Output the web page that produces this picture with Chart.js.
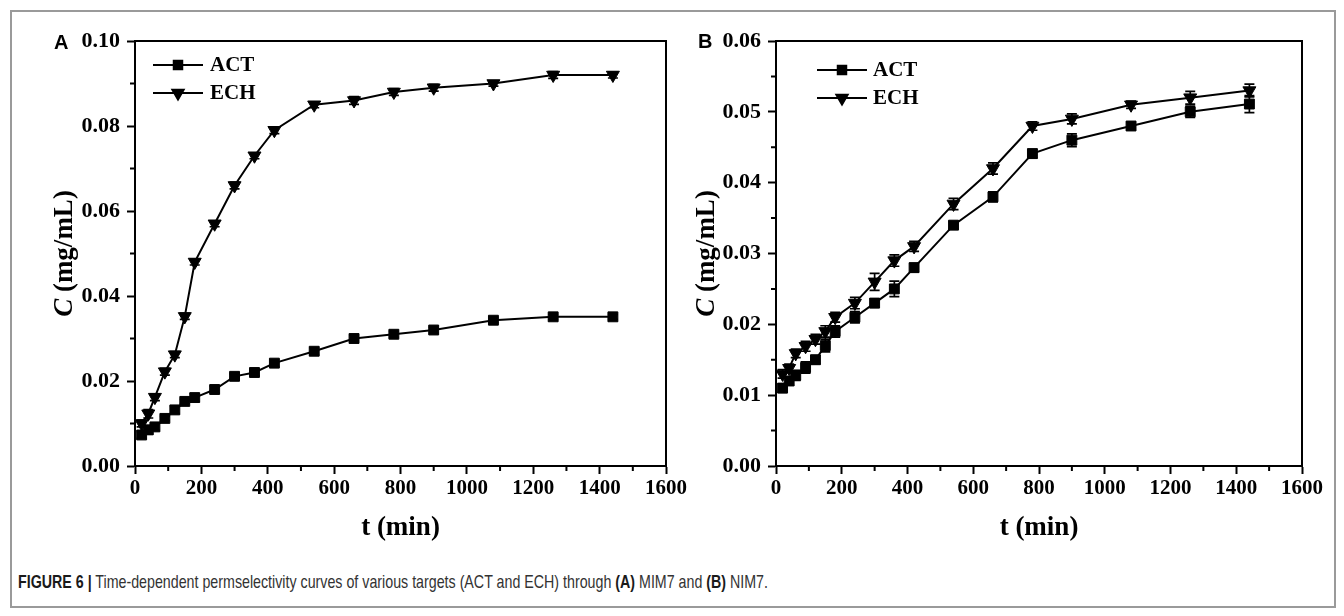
<!DOCTYPE html>
<html>
<head>
<meta charset="utf-8">
<script src="https://cdn.jsdelivr.net/npm/chart.js@4/dist/chart.umd.min.js"></script>
<style>
  html, body { margin: 0; padding: 0; background: #fff; }
  body { width: 1344px; height: 616px; position: relative; overflow: hidden; }
  #frame { position: absolute; left: 10px; top: 10px; width: 1322px; height: 594px; border: 2px solid #9a9a9a; }
  canvas { position: absolute; }
  #cap { position: absolute; left: 18px; top: 571px; font-family: 'Liberation Sans', Arial, sans-serif; font-size: 18.5px; color: #333; white-space: nowrap; transform-origin: 0 0; }
  #cap b { color: #1a1a1a; }
</style>
</head>
<body>
<div id="frame"></div>
<canvas id="cA" width="678" height="542" style="left:12px;top:12px;width:678px;height:542px"></canvas>
<canvas id="cB" width="640" height="542" style="left:690px;top:12px;width:640px;height:542px"></canvas>
<div id="cap"><b>FIGURE 6 |</b> Time-dependent permselectivity curves of various targets (ACT and ECH) through <b>(A)</b> MIM7 and <b>(B)</b> NIM7.</div>
<script>
// ---- data ----
const times = [20, 40, 60, 90, 120, 150, 180, 240, 300, 360, 420, 540, 660, 780, 900, 1080, 1260, 1440];
const seriesNames = ['ACT', 'ECH'];

const A_ACT = [0.0073, 0.0085, 0.0092, 0.0112, 0.0132, 0.0152, 0.0161, 0.0180, 0.0211, 0.0220, 0.0242, 0.0270, 0.0300, 0.0310, 0.0320, 0.0343, 0.0351, 0.0351];
const A_ACT_err = [0.0008, 0.0010, 0.0008, 0.0005, 0.0008, 0.0005, 0.0009, 0.0008, 0.0006, 0.0008, 0.0008, 0.0008, 0.0008, 0.0007, 0.0007, 0.0006, 0.0006, 0.0006];
const A_ECH = [0.0100, 0.0123, 0.0162, 0.0222, 0.0262, 0.0352, 0.0480, 0.0570, 0.0660, 0.0730, 0.0790, 0.0850, 0.0860, 0.0880, 0.0890, 0.0900, 0.0920, 0.0920];
const A_ECH_err = [0.0008, 0.0010, 0.0008, 0.0008, 0.0007, 0.0007, 0.0007, 0.0007, 0.0008, 0.0007, 0.0008, 0.0007, 0.0009, 0.0008, 0.0008, 0.0006, 0.0008, 0.0007];

const B_ACT = [0.0110, 0.0120, 0.0128, 0.0139, 0.0150, 0.0170, 0.0190, 0.0210, 0.0230, 0.0250, 0.0280, 0.0340, 0.0380, 0.0441, 0.0460, 0.0480, 0.0500, 0.0511];
const B_ACT_err = [0.0006, 0.0006, 0.0007, 0.0008, 0.0006, 0.0009, 0.0008, 0.0008, 0.0006, 0.0011, 0.0006, 0.0005, 0.0007, 0.0006, 0.0009, 0.0005, 0.0008, 0.0012];
const B_ECH = [0.0130, 0.0138, 0.0159, 0.0169, 0.0179, 0.0190, 0.0210, 0.0230, 0.0260, 0.0290, 0.0310, 0.0370, 0.0420, 0.0480, 0.0490, 0.0510, 0.0520, 0.0530];
const B_ECH_err = [0.0006, 0.0006, 0.0006, 0.0007, 0.0007, 0.0008, 0.0007, 0.0008, 0.0012, 0.0008, 0.0007, 0.0008, 0.0008, 0.0006, 0.0007, 0.0005, 0.0009, 0.0009];

const xTickLabels = ['0', '200', '400', '600', '800', '1000', '1200', '1400', '1600'];
const yTicksA = ['0.00', '0.02', '0.04', '0.06', '0.08', '0.10'];
const yTicksB = ['0.00', '0.01', '0.02', '0.03', '0.04', '0.05', '0.06'];

// ---- caption width (condensed look) ----
(function () {
  const cap = document.getElementById('cap');
  const w = cap.getBoundingClientRect().width;
  cap.style.transform = 'scaleX(' + (750 / w).toFixed(4) + ')';
})();

// ---- helpers ----
const SERIF = "'Liberation Serif', 'Times New Roman', serif";
const SANS = "'Liberation Sans', Arial, sans-serif";

function pts(xs, ys) { return xs.map((x, i) => ({ x: x, y: ys[i] })); }

const errorBars = {
  id: 'errorBars',
  afterDatasetsDraw(chart) {
    const ctx = chart.ctx, ys = chart.scales.y, xs = chart.scales.x;
    ctx.save();
    ctx.strokeStyle = '#000';
    ctx.lineWidth = 1.7;
    chart.data.datasets.forEach(ds => {
      ds.data.forEach((p, i) => {
        const e = ds.errors[i];
        const px = xs.getPixelForValue(p.x);
        const top = ys.getPixelForValue(p.y + e), bot = ys.getPixelForValue(p.y - e);
        ctx.beginPath();
        ctx.moveTo(px, top); ctx.lineTo(px, bot);
        ctx.moveTo(px - 5, top); ctx.lineTo(px + 5, top);
        ctx.moveTo(px - 5, bot); ctx.lineTo(px + 5, bot);
        ctx.stroke();
      });
    });
    ctx.restore();
  }
};

const decorations = {
  id: 'decorations',
  afterDraw(chart, args, o) {
    const ctx = chart.ctx, ca = chart.chartArea;
    const xs = chart.scales.x, ys = chart.scales.y;
    ctx.save();
    ctx.strokeStyle = '#000';
    ctx.lineWidth = 2;
    ctx.beginPath();
    ctx.moveTo(ca.left, ca.top); ctx.lineTo(ca.right, ca.top); ctx.lineTo(ca.right, ca.bottom);
    ctx.stroke();
    // minor ticks
    ctx.beginPath();
    for (let v = o.xMinor; v < xs.max; v += o.xMinor * 2) {
      const px = xs.getPixelForValue(v);
      ctx.moveTo(px, ca.bottom); ctx.lineTo(px, ca.bottom + 5);
    }
    for (let k = 1; k * o.yMinor < ys.max; k += 2) {
      const py = ys.getPixelForValue(k * o.yMinor);
      ctx.moveTo(ca.left, py); ctx.lineTo(ca.left - 5, py);
    }
    ctx.stroke();
    // panel letter
    ctx.fillStyle = '#000';
    ctx.font = 'bold 20px ' + SANS;
    ctx.textBaseline = 'middle';
    ctx.textAlign = 'left';
    ctx.fillText(o.letter, o.letterX - o.offX, o.letterY - o.offY);
    // x title
    ctx.font = 'bold 27px ' + SERIF;
    ctx.textAlign = 'center';
    ctx.fillText('t (min)', (ca.left + ca.right) / 2, o.xTitleY - o.offY);
    // y title (rotated, italic C)
    ctx.translate(o.yTitleX - o.offX, (ca.top + ca.bottom) / 2);
    ctx.rotate(-Math.PI / 2);
    const f1 = 'italic bold 27px ' + SERIF, f2 = 'bold 27px ' + SERIF;
    ctx.font = f1; const w1 = ctx.measureText('C').width;
    ctx.font = f2; const w2 = ctx.measureText(' (mg/mL)').width;
    const start = -(w1 + w2) / 2;
    ctx.textAlign = 'left';
    ctx.font = f1; ctx.fillText('C', start, 0);
    ctx.font = f2; ctx.fillText(' (mg/mL)', start + w1, 0);
    ctx.restore();
    // legend
    ctx.save();
    ctx.strokeStyle = '#000'; ctx.fillStyle = '#000'; ctx.lineWidth = 2;
    chart.data.datasets.forEach((ds, i) => {
      const y = o.legY[i] - o.offY, x0 = o.legX0 - o.offX, x1 = o.legX1 - o.offX;
      ctx.beginPath(); ctx.moveTo(x0, y); ctx.lineTo(x1, y); ctx.stroke();
      Chart.helpers.drawPoint(ctx, { pointStyle: ds.pointStyle, rotation: ds.pointRotation || 0, radius: ds.pointRadius - 1, borderWidth: 1 }, (x0 + x1) / 2, y);
      ctx.font = 'bold 21px ' + SERIF;
      ctx.textBaseline = 'middle'; ctx.textAlign = 'left';
      ctx.fillText(ds.label, o.legTextX - o.offX, y + 1);
    });
    ctx.restore();
  }
};

function makeChart(id, cfg) {
  return new Chart(document.getElementById(id), {
    type: 'scatter',
    data: {
      datasets: [
        { label: seriesNames[0], data: pts(times, cfg.act), errors: cfg.actErr, showLine: true,
          borderColor: '#000', backgroundColor: '#000', borderWidth: 2,
          pointStyle: 'rect', pointRadius: 7, pointHoverRadius: 7, pointBorderWidth: 1, pointBorderColor: '#000' },
        { label: seriesNames[1], data: pts(times, cfg.ech), errors: cfg.echErr, showLine: true,
          borderColor: '#000', backgroundColor: '#000', borderWidth: 2,
          pointStyle: 'triangle', pointRotation: 180, rotation: 180, pointRadius: 7.5, pointHoverRadius: 7.5, pointBorderWidth: 1, pointBorderColor: '#000' }
      ]
    },
    options: {
      responsive: false, animation: false, devicePixelRatio: 1,
      layout: { padding: { top: cfg.padTop, right: cfg.padRight, left: 0, bottom: 0 } },
      plugins: { legend: { display: false }, tooltip: { enabled: false }, decorations: cfg.deco },
      scales: {
        x: {
          type: 'linear', min: 0, max: 1600,
          afterFit: s => { s.height = cfg.xH; },
          border: { display: true, color: '#000', width: 2 },
          grid: { display: true, drawOnChartArea: false, drawTicks: true, tickLength: 8, tickWidth: 2, tickColor: '#000', color: '#000' },
          ticks: { stepSize: 200, color: '#000', font: { family: SERIF, size: 21, weight: 'bold' }, padding: 2, maxRotation: 0, autoSkip: false,
                   callback: (v) => xTickLabels[Math.round(v / 200)] }
        },
        y: {
          type: 'linear', min: 0, max: cfg.yMax,
          afterFit: s => { s.width = cfg.yW; },
          border: { display: true, color: '#000', width: 2 },
          grid: { display: true, drawOnChartArea: false, drawTicks: true, tickLength: 8, tickWidth: 2, tickColor: '#000', color: '#000' },
          ticks: { stepSize: cfg.yStep, color: '#000', font: { family: SERIF, size: 22, weight: 'bold' }, padding: 7, autoSkip: false,
                   callback: (v) => cfg.yLabels[Math.round(v / cfg.yStep)] }
        }
      }
    },
    plugins: [errorBars, decorations]
  });
}

makeChart('cA', {
  act: A_ACT, actErr: A_ACT_err, ech: A_ECH, echErr: A_ECH_err,
  yMax: 0.10, yStep: 0.02, yLabels: yTicksA,
  padTop: 29, padRight: 24, yW: 123, xH: 88,
  deco: { offX: 12, offY: 12, xMinor: 100, yMinor: 0.01, letter: 'A', letterX: 54, letterY: 43,
          xTitleY: 528, yTitleX: 65, legX0: 153, legX1: 203, legTextX: 210, legY: [65, 93] }
});

makeChart('cB', {
  act: B_ACT, actErr: B_ACT_err, ech: B_ECH, echErr: B_ECH_err,
  yMax: 0.06, yStep: 0.01, yLabels: yTicksB,
  padTop: 29, padRight: 28, yW: 86, xH: 88,
  deco: { offX: 690, offY: 12, xMinor: 100, yMinor: 0.005, letter: 'B', letterX: 698, letterY: 42,
          xTitleY: 528, yTitleX: 707, legX0: 817, legX1: 867, legTextX: 873, legY: [70, 98] }
});
</script>
</body>
</html>
